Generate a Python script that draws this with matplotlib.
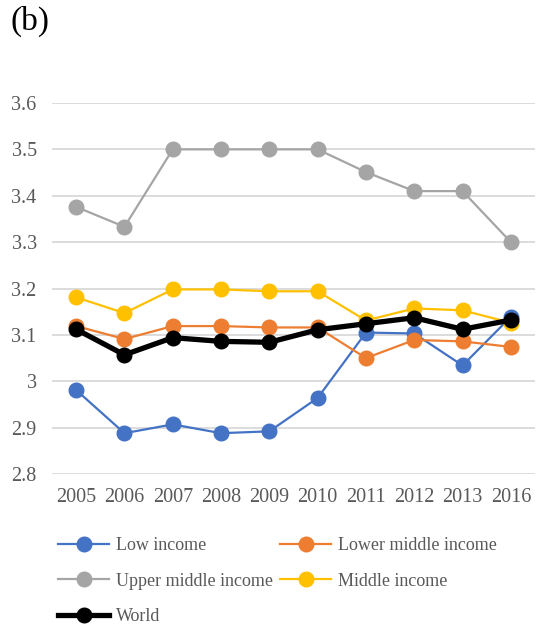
import matplotlib.pyplot as plt
from matplotlib.lines import Line2D

years = ["2005", "2006", "2007", "2008", "2009", "2010", "2011", "2012", "2013", "2016"]
low_income = [2.981, 2.888, 2.907, 2.888, 2.892, 2.964, 3.105, 3.103, 3.034, 3.139]
lower_middle = [3.119, 3.091, 3.119, 3.119, 3.116, 3.116, 3.050, 3.089, 3.086, 3.074]
upper_middle = [3.376, 3.333, 3.500, 3.500, 3.500, 3.500, 3.451, 3.410, 3.410, 3.300]
middle_income = [3.181, 3.147, 3.198, 3.198, 3.194, 3.194, 3.131, 3.157, 3.153, 3.126]
world = [3.112, 3.057, 3.094, 3.086, 3.084, 3.111, 3.124, 3.137, 3.112, 3.132]

plt.rcParams['font.family'] = ['Liberation Serif', 'DejaVu Serif']
txt = '#595959'

fig = plt.figure(figsize=(5.37, 6.28), dpi=100)
ax = fig.add_axes([52 / 537, 1 - 474 / 628, (535 - 52) / 537, (474 - 103) / 628])

x = range(len(years))
series = [
    ("Low income", low_income, '#4472c4', 1.6),
    ("Lower middle income", lower_middle, '#ed7d31', 1.6),
    ("Upper middle income", upper_middle, '#a5a5a5', 1.6),
    ("Middle income", middle_income, '#ffc000', 1.6),
    ("World", world, '#000000', 3.8),
]
handles = {}
for name, vals, col, lw in series:
    ax.plot(x, vals, color=col, lw=lw, marker='o', ms=10.5, zorder=3)
    handles[name] = Line2D([], [], color=col, lw=lw, marker='o', ms=10.5)

ax.set_xlim(-0.5, len(years) - 0.5)
ax.set_ylim(2.8, 3.6)
ax.set_yticks([2.8, 2.9, 3.0, 3.1, 3.2, 3.3, 3.4, 3.5, 3.6])
ax.set_yticklabels(["2.8", "2.9", "3", "3.1", "3.2", "3.3", "3.4", "3.5", "3.6"])
ax.set_xticks(list(x))
ax.set_xticklabels(years)
ax.tick_params(length=0, labelsize=14.5, labelcolor=txt)
ax.tick_params(axis='y', pad=11)
ax.tick_params(axis='x', pad=10)
ax.grid(axis='y', color='#d9d9d9', lw=1.3)
ax.set_axisbelow(True)
for s in ax.spines.values():
    s.set_visible(False)

order = ["Low income", "Upper middle income", "World", "Lower middle income", "Middle income"]
leg = fig.legend([handles[k] for k in order], order, ncol=2, loc='upper left',
                 bbox_to_anchor=(42 / 537, 1 - 521 / 628), frameon=False, fontsize=13,
                 handlelength=2.8, handletextpad=0.4, columnspacing=0.4, labelspacing=1.02)
for t in leg.get_texts():
    t.set_color(txt)

fig.text(10 / 537, 1 - 21 / 628, "(b)", fontsize=24, va='center', ha='left')

fig.savefig("out.png", dpi=100)
